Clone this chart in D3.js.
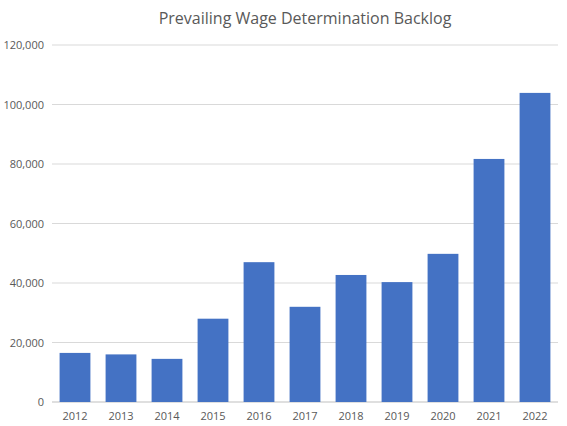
<!DOCTYPE html>
<html><head><meta charset="utf-8">
<script src="https://cdn.jsdelivr.net/npm/d3@7"></script>
<style>body{margin:0;background:#fff}text{font-family:"Open Sans",sans-serif}</style>
</head><body><svg id="c" width="567" height="426"></svg>
<script>
const years=["2012","2013","2014","2015","2016","2017","2018","2019","2020","2021","2022"];
const backlog=[16500,16000,14500,28000,47000,32000,42700,40300,49800,81700,103900];
const yTicks=[0,20000,40000,60000,80000,100000,120000];
const svg=d3.select("#c");
const L=52,R=558,T=45,B=402;
const x=d3.scaleBand().domain(years).range([L,R]).paddingInner(0.33).paddingOuter(0.165);
const y=d3.scaleLinear().domain([0,120000]).range([B,T]);
svg.append("g").selectAll("line").data(yTicks).join("line")
 .attr("x1",L).attr("x2",R).attr("y1",d=>y(d)).attr("y2",d=>y(d))
 .attr("stroke",(d)=>d===0?"#bfbfbf":"#d9d9d9").attr("stroke-width",1);
svg.append("g").selectAll("text").data(yTicks).join("text")
 .attr("x",L-8).attr("y",d=>y(d)+4).attr("text-anchor","end")
 .attr("font-size",11).attr("fill","#595959").text(d=>d3.format(",")(d));
svg.append("g").selectAll("rect").data(backlog).join("rect")
 .attr("x",(d,i)=>x(years[i])).attr("width",x.bandwidth())
 .attr("y",d=>y(d)).attr("height",d=>B-y(d)).attr("fill","#4472C4");
svg.append("g").selectAll("text").data(years).join("text")
 .attr("x",d=>x(d)+x.bandwidth()/2).attr("y",B+18).attr("text-anchor","middle")
 .attr("font-size",11).attr("fill","#595959").text(d=>d);
svg.append("text").attr("x",305).attr("y",24).attr("text-anchor","middle")
 .attr("font-size",16).attr("fill","#595959").text("Prevailing Wage Determination Backlog");
</script></body></html>
